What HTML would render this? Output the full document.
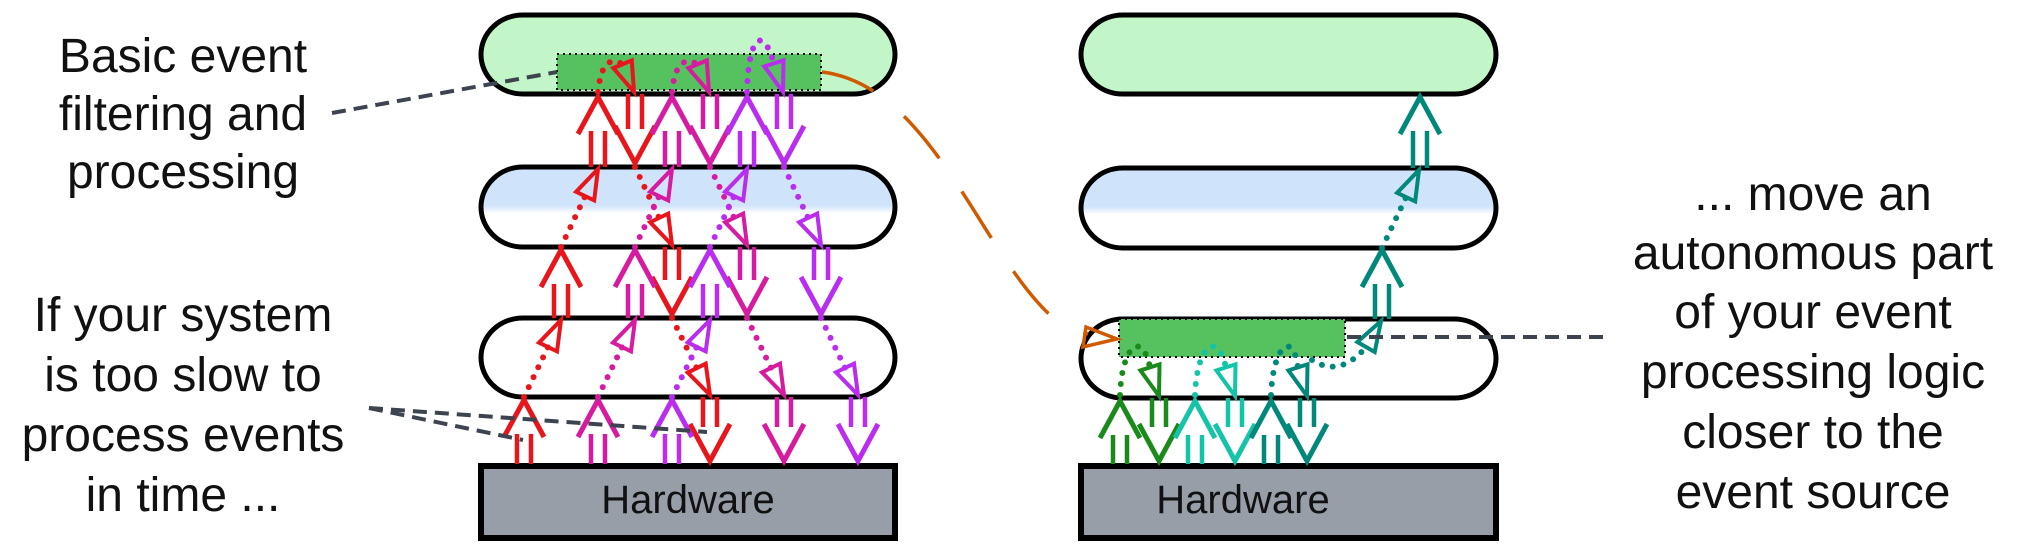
<!DOCTYPE html>
<html><head><meta charset="utf-8"><style>
html,body{margin:0;padding:0;background:#fff;}
svg{display:block;}
text{font-family:"Liberation Sans",Arial,sans-serif;fill:#111;}
</style></head><body>
<svg id="s" width="2018" height="559" viewBox="0 0 2018 559" xmlns="http://www.w3.org/2000/svg">
<defs>
<linearGradient id="blue" x1="0" y1="0" x2="0" y2="1">
<stop offset="0" stop-color="#cfe3fb"/><stop offset="0.48" stop-color="#cfe3fb"/><stop offset="0.58" stop-color="#ffffff"/><stop offset="1" stop-color="#ffffff"/>
</linearGradient>
</defs>
<g id="layers" stroke="#000" stroke-width="5">
<rect x="481" y="15" width="414" height="79" rx="42" fill="#c2f5c7"/>
<rect x="481" y="167" width="414" height="80" rx="42" fill="url(#blue)"/>
<rect x="481" y="318" width="414" height="79" rx="42" fill="#fff"/>
<rect x="481" y="466" width="414" height="72" fill="#979ea8" stroke-width="6"/>
<rect x="1081" y="15" width="415" height="79" rx="42" fill="#c2f5c7"/>
<rect x="1081" y="168" width="415" height="80" rx="42" fill="url(#blue)"/>
<rect x="1081" y="319" width="415" height="79" rx="42" fill="#fff"/>
<rect x="1081" y="466" width="415" height="72" fill="#979ea8" stroke-width="6"/>
</g>
<rect x="557" y="54" width="264" height="36" fill="#55c25f" stroke="#000" stroke-width="2" stroke-dasharray="2 4"/>
<rect x="1119" y="319" width="226" height="38" fill="#55c25f" stroke="#000" stroke-width="2" stroke-dasharray="2 4"/>
<g id="arrows"></g>
<g fill="none" stroke="#3d444f" stroke-width="4" stroke-dasharray="14 8">
<line x1="332" y1="113" x2="557" y2="72"/>
<line x1="369" y1="408" x2="707" y2="432"/>
<line x1="369" y1="408" x2="523" y2="440"/>
<line x1="1347" y1="337" x2="1608" y2="337"/>
</g>
<path d="M822,72 C930,85 980,250 1050,315 C1070,330 1085,333 1088,334" fill="none" stroke="#d05a00" stroke-width="3.5" stroke-dasharray="55 40"/>
<polygon points="1117,339 1086,327 1083,347" fill="none" stroke="#d05a00" stroke-width="3.5"/>
<text x="1243" y="513" font-size="40" text-anchor="middle" style="font-size:40px">Hardware</text>
<text x="688" y="513" font-size="40" text-anchor="middle" style="font-size:40px">Hardware</text>
<g font-size="48" text-anchor="middle" style="font-size:48px">
<text x="183" y="72">Basic event</text>
<text x="183" y="130">filtering and</text>
<text x="183" y="188">processing</text>
<text x="183" y="331">If your system</text>
<text x="183" y="391">is too slow to</text>
<text x="183" y="451">process events</text>
<text x="183" y="511">in time ...</text>
<text x="1813" y="210">... move an</text>
<text x="1813" y="269">autonomous part</text>
<text x="1813" y="328">of your event</text>
<text x="1813" y="388">processing logic</text>
<text x="1813" y="448">closer to the</text>
<text x="1813" y="508">event source</text>
</g>
</svg>
<script>
var NS="http://www.w3.org/2000/svg",G=document.getElementById("arrows");
function el(t,a){var e=document.createElementNS(NS,t);for(var k in a)e.setAttribute(k,a[k]);G.appendChild(e);return e;}
function up(x,y0,y1,c){
 el("line",{x1:x-7,y1:y0,x2:x-7,y2:y1+37,stroke:c,"stroke-width":4.5});
 el("line",{x1:x+7,y1:y0,x2:x+7,y2:y1+37,stroke:c,"stroke-width":4.5});
 el("polyline",{points:(x-20)+","+(y1+40)+" "+x+","+(y1+3)+" "+(x+20)+","+(y1+40),fill:"none",stroke:c,"stroke-width":5});
}
function down(x,y0,y1,c){
 el("line",{x1:x-7,y1:y0,x2:x-7,y2:y1-37,stroke:c,"stroke-width":4.5});
 el("line",{x1:x+7,y1:y0,x2:x+7,y2:y1-37,stroke:c,"stroke-width":4.5});
 el("polyline",{points:(x-20)+","+(y1-40)+" "+x+","+(y1-3)+" "+(x+20)+","+(y1-40),fill:"none",stroke:c,"stroke-width":5});
}
function dots(d,c){el("path",{d:d,fill:"none",stroke:c,"stroke-width":6,"stroke-linecap":"round","stroke-dasharray":"0 11"});}
function tri(tx,ty,dx,dy,c){var l=Math.hypot(dx,dy);dx/=l;dy/=l;var bx=tx-30*dx,by=ty-30*dy,nx=-dy,ny=dx;
 el("polygon",{points:tx+","+ty+" "+(bx+10*nx)+","+(by+10*ny)+" "+(bx-10*nx)+","+(by-10*ny),fill:"none",stroke:c,"stroke-width":4,"stroke-linejoin":"miter"});return [bx,by];}
function seg(x1,y1,x2,y2,c){var b=tri(x2,y2,x2-x1,y2-y1,c);dots("M"+x1+","+y1+" L"+b[0]+","+b[1],c);}
var X=[524,561,598,635,672,710,747,784,821,858];
var cols=["#e8161b","#d61ba0","#b92cf0"];
for(var k=0;k<3;k++){
 var c=cols[k],s=2*k;
 up(X[s],464,397,c);
 seg(X[s],397,X[s+1],320,c);
 up(X[s+1],318,247,c);
 seg(X[s+1],247,X[s+2],169,c);
 up(X[s+2],167,94,c);
 var a=X[s+2],b=X[s+3];
 if(k<2){var bb=tri(b-1,92,0.38,0.92,c);dots("M"+a+",92 Q"+(a+4)+",52 "+bb[0]+","+bb[1],c);}
 else{var bb=tri(b-1,92,0.3,0.95,c);dots("M"+a+",92 C"+(a+1)+",40 "+(a+15)+",22 "+bb[0]+","+bb[1],c);}
 down(X[s+3],94,166,c);
 seg(X[s+3],167,X[s+4],245,c);
 down(X[s+4],247,317,c);
 seg(X[s+4],318,X[s+5],395,c);
 down(X[s+5],397,464,c);
}
var rc=[["#1a8a1a",1120,1159],["#14c4a8",1195,1235],["#00897b",1271,1307]];
rc.forEach(function(r){
 up(r[1],464,398,r[0]);
 var bb=tri(r[2],396,0.3,0.95,r[0]);
 dots("M"+r[1]+",395 C"+(r[1]+2)+",345 "+(r[1]+22)+",330 "+bb[0]+","+bb[1],r[0]);
 down(r[2],398,464,r[0]);
});
var t="#00897b";
var bb=tri(1381,321,0.5,-0.87,t);
dots("M1312,360 Q1340,378 "+bb[0]+","+bb[1],t);
up(1382,319,247,t);
seg(1382,248,1419,170,t);
up(1420,168,94,t);
</script>
</body></html>
